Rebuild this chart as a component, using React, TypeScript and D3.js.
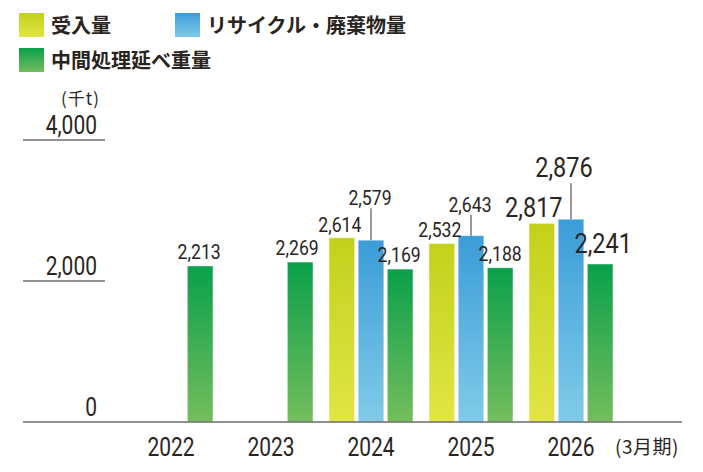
import { useEffect, useRef } from 'react';
import * as d3 from 'd3';

// fiscal years (ending March)
const years = ['2022', '2023', '2024', '2025', '2026'];
const intake = [null, null, 2614, 2532, 2817];
const recycled = [null, null, 2579, 2643, 2876];
const processed = [2213, 2269, 2169, 2188, 2241];
const yTicks = [0, 2000, 4000];

type Key = 'intake' | 'recycled' | 'processed';

const seriesDefs: { key: Key; label: string; values: (number | null)[]; top: string; bottom: string }[] = [
  { key: 'intake', label: '受入量', values: intake, top: '#c2d11a', bottom: '#e2e545' },
  { key: 'recycled', label: 'リサイクル・廃棄物量', values: recycled, top: '#3b9cd8', bottom: '#80cbe8' },
  { key: 'processed', label: '中間処理延べ重量', values: processed, top: '#0aa04b', bottom: '#74bd5c' },
];

// value label nudges (dx from bar centre, lift above bar top, leader line, large type)
const labelLayout: Record<string, { dx: number; lift: number; leader?: boolean; big?: boolean }> = {
  'processed-2022': { dx: -1, lift: 7 },
  'processed-2023': { dx: -3, lift: 7 },
  'intake-2024': { dx: -2, lift: 6 },
  'recycled-2024': { dx: -1, lift: 35, leader: true },
  'processed-2024': { dx: -1, lift: 7 },
  'intake-2025': { dx: -2, lift: 6 },
  'recycled-2025': { dx: -1, lift: 24, leader: true },
  'processed-2025': { dx: 0, lift: 7 },
  'intake-2026': { dx: -8, lift: 6, big: true },
  'recycled-2026': { dx: -7, lift: 42, leader: true, big: true },
  'processed-2026': { dx: 3, lift: 11, big: true },
};

const numFont = 'Roboto, "Noto Sans", sans-serif';
const jpFont = '"Noto Sans CJK JP", "Noto Sans", sans-serif';
const ink = '#2a2421';
const squeeze = 0.84;

export default function App() {
  const svgRef = useRef<SVGSVGElement>(null);

  useEffect(() => {
    if (!svgRef.current) return;
    const svg = d3.select(svgRef.current);
    svg.selectAll('*').remove();

    const x = d3.scaleBand<string>().domain(years).range([121, 621]);
    const inner = d3
      .scaleBand<Key>()
      .domain(seriesDefs.map((s) => s.key))
      .range([-42, 42])
      .paddingInner(0.12);
    const y = d3.scaleLinear().domain([0, 4000]).range([422, 140]);
    const fmt = d3.format(',');

    // condensed number text
    const num = (tx: number, ty: number, txt: string, size: number, anchor = 'middle') => {
      svg
        .append('g')
        .attr('transform', `translate(${tx},${ty}) scale(${squeeze},1)`)
        .append('text')
        .attr('text-anchor', anchor)
        .attr('font-family', numFont)
        .attr('font-size', size)
        .attr('fill', ink)
        .text(txt);
    };

    const defs = svg.append('defs');
    seriesDefs.forEach((s) => {
      const g = defs
        .append('linearGradient')
        .attr('id', `grad-${s.key}`)
        .attr('x1', 0)
        .attr('y1', 0)
        .attr('x2', 0)
        .attr('y2', 1);
      g.append('stop').attr('offset', '0%').attr('stop-color', s.top);
      g.append('stop').attr('offset', '100%').attr('stop-color', s.bottom);
    });

    // legend
    const legendPos = [
      { x: 19, y: 13 },
      { x: 175, y: 13 },
      { x: 19, y: 48 },
    ];
    seriesDefs.forEach((s, i) => {
      const p = legendPos[i];
      svg
        .append('rect')
        .attr('x', p.x)
        .attr('y', p.y)
        .attr('width', 25)
        .attr('height', 24)
        .attr('fill', `url(#grad-${s.key})`);
      svg
        .append('text')
        .attr('x', p.x + 32)
        .attr('y', p.y + 20)
        .attr('font-family', jpFont)
        .attr('font-weight', 700)
        .attr('font-size', 20)
        .attr('fill', ink)
        .text(s.label);
    });

    // unit
    svg
      .append('text')
      .attr('x', 61)
      .attr('y', 105)
      .attr('font-family', jpFont)
      .attr('font-size', 17)
      .attr('letter-spacing', 1)
      .attr('fill', ink)
      .text('(千t)');

    // y ticks
    yTicks.forEach((t) => {
      if (t > 0) {
        svg
          .append('line')
          .attr('x1', 23)
          .attr('x2', 105)
          .attr('y1', y(t))
          .attr('y2', y(t))
          .attr('stroke', '#6b6b6b')
          .attr('stroke-width', 1.5);
      }
      num(97, y(t) - 6, fmt(t), 25, 'end');
    });

    // bars
    seriesDefs.forEach((s) => {
      const data = years
        .map((yr, i) => ({ yr, v: s.values[i] }))
        .filter((d) => d.v != null) as { yr: string; v: number }[];
      svg
        .append('g')
        .selectAll('rect')
        .data(data)
        .join('rect')
        .attr('x', (d) => (x(d.yr) ?? 0) + x.bandwidth() / 2 + (inner(s.key) ?? 0))
        .attr('y', (d) => y(d.v))
        .attr('width', inner.bandwidth())
        .attr('height', (d) => y(0) - y(d.v))
        .attr('fill', `url(#grad-${s.key})`)
        .attr('stroke', 'rgba(255,255,255,0.45)')
        .attr('stroke-width', 1);
    });

    // baseline
    svg
      .append('line')
      .attr('x1', 23)
      .attr('x2', 682)
      .attr('y1', y(0))
      .attr('y2', y(0))
      .attr('stroke', '#6b6b6b')
      .attr('stroke-width', 1.5);

    // value labels
    seriesDefs.forEach((s) => {
      years.forEach((yr, i) => {
        const v = s.values[i];
        if (v == null) return;
        const lay = labelLayout[`${s.key}-${yr}`] ?? { dx: 0, lift: 6 };
        const cx = (x(yr) ?? 0) + x.bandwidth() / 2 + (inner(s.key) ?? 0) + inner.bandwidth() / 2;
        const top = y(v);
        const base = top - lay.lift;
        if (lay.leader) {
          svg
            .append('line')
            .attr('x1', cx)
            .attr('x2', cx)
            .attr('y1', base + (lay.big ? 6 : 3))
            .attr('y2', top)
            .attr('stroke', '#555')
            .attr('stroke-width', 1.2);
        }
        num(cx + lay.dx, base, fmt(v), lay.big ? 28 : 21);
      });
    });

    // x labels
    years.forEach((yr) => {
      num((x(yr) ?? 0) + x.bandwidth() / 2, 456, yr, 25);
    });
    svg
      .append('text')
      .attr('x', 615)
      .attr('y', 454)
      .attr('font-family', jpFont)
      .attr('font-size', 19)
      .attr('letter-spacing', 0.5)
      .attr('fill', ink)
      .text('(3月期)');
  }, []);

  return (
    <svg
      ref={svgRef}
      width={703}
      height={472}
      style={{ position: 'absolute', left: 0, top: 0, background: '#fff' }}
    />
  );
}
